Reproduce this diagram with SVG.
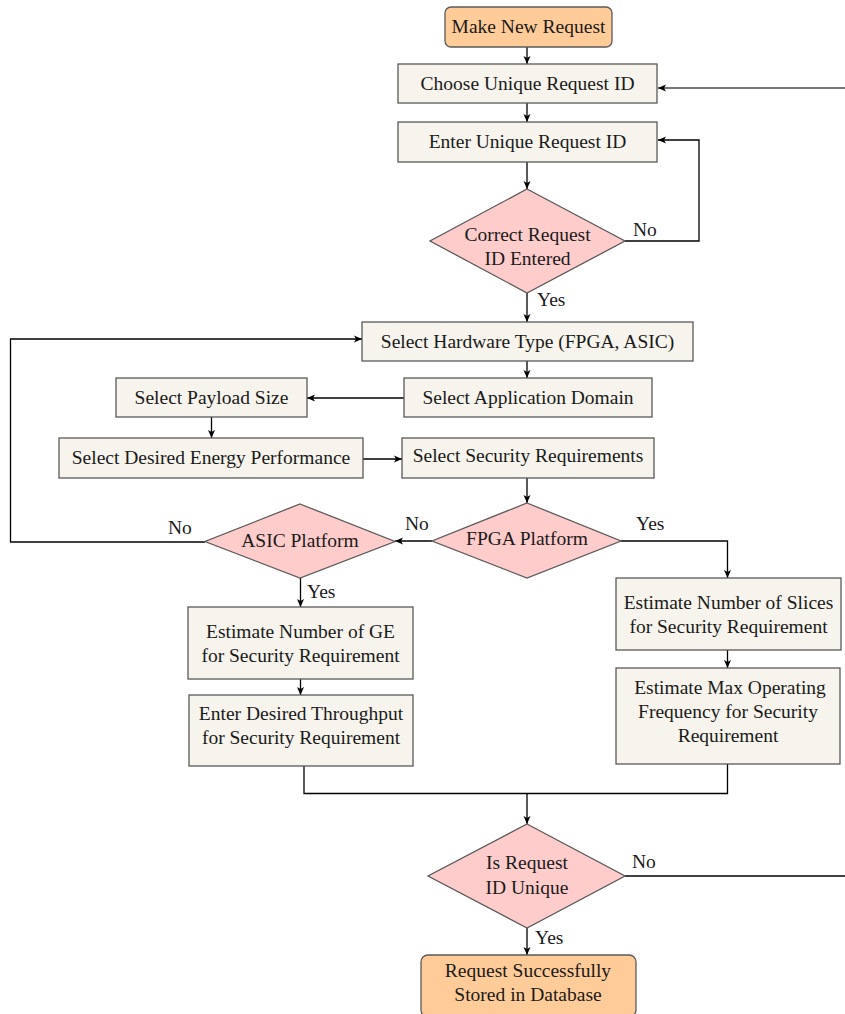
<svg xmlns="http://www.w3.org/2000/svg" width="845" height="1014" viewBox="0 0 845 1014">
<defs>
<marker id="ah" markerUnits="userSpaceOnUse" markerWidth="9" markerHeight="8" refX="8" refY="4" orient="auto">
<path d="M0,0.5 L8,4 L0,7.5 L2,4 z" fill="#000"/>
</marker>
<style>
text{font-family:"Liberation Serif","Times New Roman",serif;font-size:19.5px;fill:#1a1a1a}
.c{text-anchor:middle}
.box{fill:#f6f4ec;stroke:#5a5a5a;stroke-width:1.3}
.dia{fill:#ffcccc;stroke:#5a5a5a;stroke-width:1.3}
.term{fill:#ffcc99;stroke:#5a5a5a;stroke-width:1.3}
.ln{fill:none;stroke:#000;stroke-width:1.3}
.arr{marker-end:url(#ah)}
.gray{fill:none;stroke:#777;stroke-width:2.2}
</style>
</defs>
<rect width="845" height="1014" fill="#fff"/>

<g id="connectors">
<path class="ln arr" d="M527,47 V64"/>
<path class="gray arr" d="M845,88 H658"/>
<path class="ln arr" d="M527,103 V122"/>
<path class="ln arr" d="M527,162 V189"/>
<path class="ln arr" d="M625,241 H699 V140 H658"/>
<path class="ln arr" d="M527,293 V322"/>
<path class="ln arr" d="M527,361 V378"/>
<path class="ln arr" d="M404,398 H307"/>
<path class="ln arr" d="M211.5,417 V438"/>
<path class="ln arr" d="M363,459 H402"/>
<path class="ln arr" d="M527,478 V503"/>
<path class="ln arr" d="M432,541 H395"/>
<path class="ln arr" d="M205,542 H10.5 V339 H362"/>
<path class="ln arr" d="M621,541 H727.5 V578"/>
<path class="ln arr" d="M300.5,578 V607"/>
<path class="ln arr" d="M300.5,679 V695"/>
<path class="ln arr" d="M727.5,650 V668"/>
<path class="ln" d="M304,766 V793.5 H727.5 V764"/>
<path class="ln arr" d="M527,793.5 V824"/>
<path class="ln" d="M625,876 H845"/>
<path class="ln arr" d="M527,928 V955"/>
<text x="633" y="236">No</text>
<text x="537" y="306">Yes</text>
<text x="405" y="530">No</text>
<text x="636" y="530">Yes</text>
<text x="168" y="534">No</text>
<text x="307" y="598">Yes</text>
<text x="632" y="868">No</text>
<text x="535" y="944">Yes</text>
</g>

<g id="n-make"><rect class="term" x="445" y="7" width="167" height="40" rx="6"/><text class="c" x="528.5" y="33">Make New Request</text></g>
<g id="n-choose"><rect class="box" x="398" y="64" width="259" height="39"/><text class="c" x="527.5" y="89.5">Choose Unique Request ID</text></g>
<g id="n-enter"><rect class="box" x="398" y="122" width="259" height="40"/><text class="c" x="527.5" y="148">Enter Unique Request ID</text></g>
<g id="n-correct"><polygon class="dia" points="527,189 625,241 527,293 430,241"/><text class="c" x="527.5" y="241">Correct Request</text><text class="c" x="527.5" y="265">ID Entered</text></g>
<g id="n-hw"><rect class="box" x="362" y="322" width="331" height="39"/><text class="c" x="527.5" y="348">Select Hardware Type (FPGA, ASIC)</text></g>
<g id="n-app"><rect class="box" x="404" y="378" width="248" height="39"/><text class="c" x="528" y="404">Select Application Domain</text></g>
<g id="n-payload"><rect class="box" x="116" y="378" width="191" height="39"/><text class="c" x="211.5" y="404">Select Payload Size</text></g>
<g id="n-energy"><rect class="box" x="59" y="438" width="304" height="40"/><text class="c" x="211" y="464">Select Desired Energy Performance</text></g>
<g id="n-sec"><rect class="box" x="402" y="438" width="252" height="40"/><text class="c" x="528" y="462">Select Security Requirements</text></g>
<g id="n-fpga"><polygon class="dia" points="527,503 621,541 527,578 432,541"/><text class="c" x="527" y="545">FPGA Platform</text></g>
<g id="n-asic"><polygon class="dia" points="300,504 395,541.5 300,578 205,541.5"/><text class="c" x="300" y="547">ASIC Platform</text></g>
<g id="n-slices"><rect class="box" x="616" y="578" width="225" height="72"/><text class="c" x="728.5" y="609">Estimate Number of Slices</text><text class="c" x="728.5" y="633">for Security Requirement</text></g>
<g id="n-maxfreq"><rect class="box" x="616" y="668" width="224" height="96"/><text class="c" x="730" y="694">Estimate Max Operating</text><text class="c" x="728" y="718">Frequency for Security</text><text class="c" x="728" y="742">Requirement</text></g>
<g id="n-ge"><rect class="box" x="188" y="607" width="225" height="72"/><text class="c" x="300.5" y="638">Estimate Number of GE</text><text class="c" x="300.5" y="662">for Security Requirement</text></g>
<g id="n-thru"><rect class="box" x="189" y="695" width="224" height="71"/><text class="c" x="301" y="720">Enter Desired Throughput</text><text class="c" x="301" y="744">for Security Requirement</text></g>
<g id="n-unique"><polygon class="dia" points="527,824 625,876 527,928 428,876"/><text class="c" x="527" y="869">Is Request</text><text class="c" x="527" y="894">ID Unique</text></g>
<g id="n-stored"><rect class="term" x="421" y="955" width="215" height="62" rx="7"/><text class="c" x="528" y="977">Request Successfully</text><text class="c" x="528" y="1001">Stored in Database</text></g>
</svg>
